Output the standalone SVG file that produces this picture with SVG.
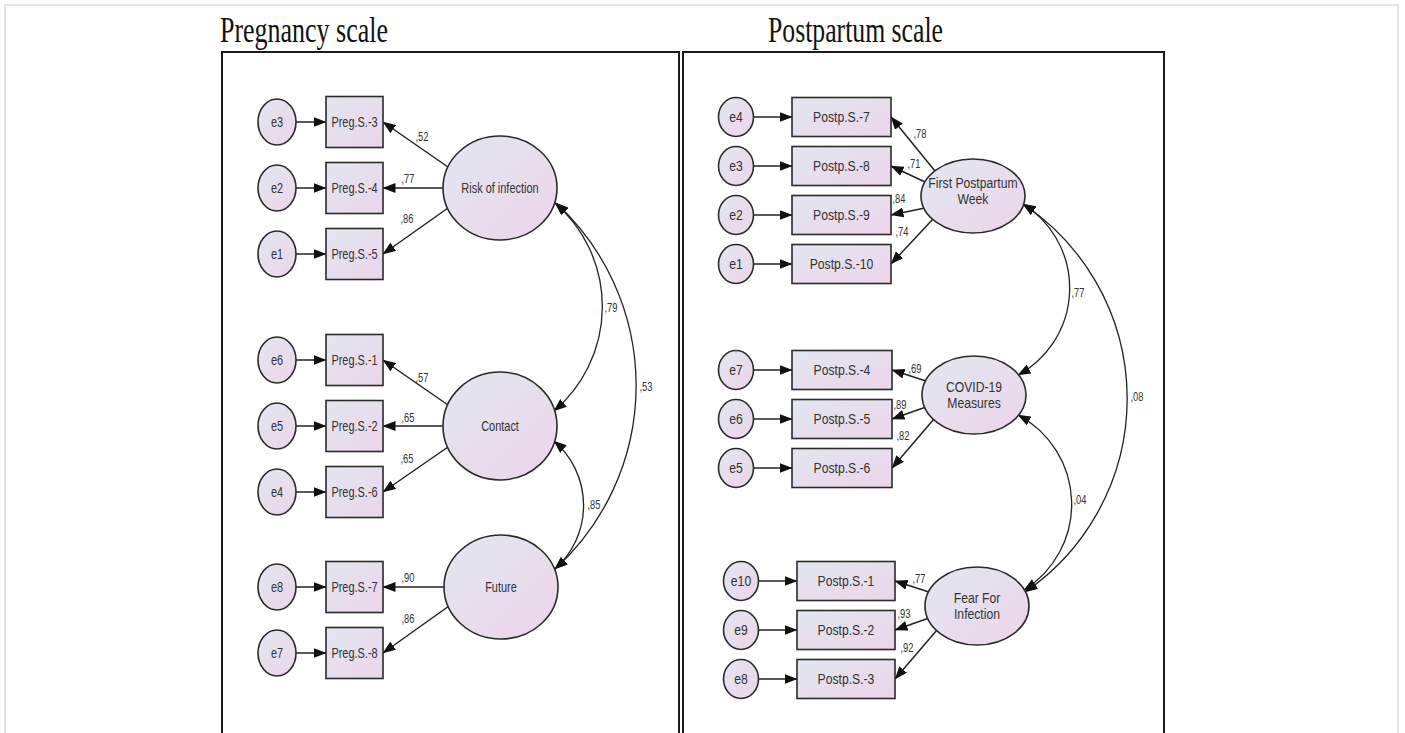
<svg xmlns="http://www.w3.org/2000/svg" width="1405" height="733" viewBox="0 0 1405 733">
<style>
.bg{fill:#ffffff}
.frame{fill:none;stroke:#e3e3e3;stroke-width:2}
.box{fill:none;stroke:#1a1a1a;stroke-width:2}
.title{font-family:"Liberation Serif","Times New Roman",serif;font-size:35px;fill:#111}
.n{fill:url(#g);stroke:#2a2a2a;stroke-width:1.6}
.t{font-family:"Liberation Sans",Arial,sans-serif;fill:#333;text-anchor:middle;transform-box:fill-box;transform-origin:center}
.tl{font-size:15px;transform:scaleX(0.73)}
.tr{font-size:14px;transform:scaleX(0.87)}
.c{font-family:"Liberation Sans",Arial,sans-serif;font-size:13px;fill:#333;text-anchor:middle;transform-box:fill-box;transform-origin:center;transform:scaleX(0.72)}
.a{fill:none;stroke:#222;stroke-width:1.5;marker-end:url(#ah)}
.arc{fill:none;stroke:#222;stroke-width:1.3;marker-start:url(#ah2);marker-end:url(#ah2)}
</style>
<defs>
<linearGradient id="g" x1="0" y1="0" x2="1" y2="1">
<stop offset="0" stop-color="#e1e7f0"/>
<stop offset="1" stop-color="#edd4ea"/>
</linearGradient>
<marker id="ah" markerUnits="userSpaceOnUse" viewBox="0 0 13 10" markerWidth="13" markerHeight="10" refX="12.5" refY="5" orient="auto">
<path d="M0,0 L13,5 L0,10 z" fill="#111"/>
</marker>
<marker id="ah2" markerUnits="userSpaceOnUse" viewBox="0 0 13 10" markerWidth="13" markerHeight="10" refX="12.5" refY="5" orient="auto-start-reverse">
<path d="M0,0 L13,5 L0,10 z" fill="#111"/>
</marker>
</defs>
<rect class="bg" x="0" y="0" width="1405" height="733"/>
<rect class="frame" x="5" y="5" width="1393" height="760"/>

<text class="title" x="220" y="42" textLength="168" lengthAdjust="spacingAndGlyphs">Pregnancy scale</text>
<text class="title" x="768" y="42" textLength="175" lengthAdjust="spacingAndGlyphs">Postpartum scale</text>
<rect class="box" x="222" y="52" width="457" height="720"/>
<rect class="box" x="683" y="52" width="481" height="720"/>

<g id="connectors">
<line class="a" x1="296" y1="122" x2="326" y2="122"/>
<line class="a" x1="296" y1="188" x2="326" y2="188"/>
<line class="a" x1="296" y1="254" x2="326" y2="254"/>
<line class="a" x1="296" y1="360" x2="326" y2="360"/>
<line class="a" x1="296" y1="426" x2="326" y2="426"/>
<line class="a" x1="296" y1="492" x2="326" y2="492"/>
<line class="a" x1="296" y1="587" x2="326" y2="587"/>
<line class="a" x1="296" y1="653" x2="326" y2="653"/>
<line class="a" x1="448" y1="167" x2="383" y2="122"/>
<line class="a" x1="443" y1="188" x2="383" y2="188"/>
<line class="a" x1="448" y1="208" x2="383" y2="254"/>
<line class="a" x1="448" y1="405" x2="383" y2="360"/>
<line class="a" x1="443" y1="426" x2="383" y2="426"/>
<line class="a" x1="448" y1="447" x2="383" y2="492"/>
<line class="a" x1="444" y1="587" x2="383" y2="587"/>
<line class="a" x1="449" y1="606" x2="383" y2="653"/>
<path class="arc" d="M555,203 A137,137 0 0 1 554,411"/>
<path class="arc" d="M556,203 A248,248 0 0 1 555,569"/>
<path class="arc" d="M554,441 A85,85 0 0 1 555,569"/>
<line class="a" x1="753.5" y1="117" x2="792" y2="117"/>
<line class="a" x1="753.5" y1="166" x2="792" y2="166"/>
<line class="a" x1="753.5" y1="215" x2="792" y2="215"/>
<line class="a" x1="753.5" y1="264" x2="792" y2="264"/>
<line class="a" x1="753.5" y1="370" x2="792" y2="370"/>
<line class="a" x1="753.5" y1="419" x2="792" y2="419"/>
<line class="a" x1="753.5" y1="468" x2="792" y2="468"/>
<line class="a" x1="758.5" y1="581" x2="797" y2="581"/>
<line class="a" x1="758.5" y1="630" x2="797" y2="630"/>
<line class="a" x1="758.5" y1="679" x2="797" y2="679"/>
<line class="a" x1="935" y1="171" x2="891" y2="117"/>
<line class="a" x1="925" y1="182" x2="891" y2="166"/>
<line class="a" x1="925" y1="208" x2="891" y2="215"/>
<line class="a" x1="933" y1="219" x2="891" y2="264"/>
<line class="a" x1="926" y1="381" x2="892" y2="370"/>
<line class="a" x1="926" y1="407" x2="892" y2="419"/>
<line class="a" x1="934" y1="419" x2="892" y2="468"/>
<line class="a" x1="929" y1="592" x2="895" y2="581"/>
<line class="a" x1="929" y1="618" x2="895" y2="630"/>
<line class="a" x1="937" y1="630" x2="895" y2="679"/>
<path class="arc" d="M1023,204 A99,99 0 0 1 1018,375"/>
<path class="arc" d="M1023,204 A234,234 0 0 1 1025,592"/>
<path class="arc" d="M1018,415 A101,101 0 0 1 1024,590"/>
<text class="c" x="422" y="141">,52</text>
<text class="c" x="408" y="183">,77</text>
<text class="c" x="407" y="223">,86</text>
<text class="c" x="422" y="382">,57</text>
<text class="c" x="408" y="422">,65</text>
<text class="c" x="407" y="463">,65</text>
<text class="c" x="408" y="582">,90</text>
<text class="c" x="408" y="623">,86</text>
<text class="c" x="611" y="312">,79</text>
<text class="c" x="646" y="391">,53</text>
<text class="c" x="594" y="509">,85</text>
<text class="c" x="920" y="138">,78</text>
<text class="c" x="914" y="168">,71</text>
<text class="c" x="899" y="203">,84</text>
<text class="c" x="902" y="236">,74</text>
<text class="c" x="915" y="373">,69</text>
<text class="c" x="900" y="409">,89</text>
<text class="c" x="903" y="440">,82</text>
<text class="c" x="919" y="583">,77</text>
<text class="c" x="904" y="618">,93</text>
<text class="c" x="907" y="652">,92</text>
<text class="c" x="1078" y="297">,77</text>
<text class="c" x="1137" y="401">,08</text>
<text class="c" x="1080" y="504">,04</text>
</g>

<g id="L_e3"><ellipse class="n" cx="277" cy="122" rx="19" ry="23"/><text class="t tl" x="277" y="127.5">e3</text></g>
<g id="L_e2"><ellipse class="n" cx="277" cy="188" rx="19" ry="23"/><text class="t tl" x="277" y="193.5">e2</text></g>
<g id="L_e1"><ellipse class="n" cx="277" cy="254" rx="19" ry="23"/><text class="t tl" x="277" y="259.5">e1</text></g>
<g id="L_e6"><ellipse class="n" cx="277" cy="360" rx="19" ry="23"/><text class="t tl" x="277" y="365.5">e6</text></g>
<g id="L_e5"><ellipse class="n" cx="277" cy="426" rx="19" ry="23"/><text class="t tl" x="277" y="431.5">e5</text></g>
<g id="L_e4"><ellipse class="n" cx="277" cy="492" rx="19" ry="23"/><text class="t tl" x="277" y="497.5">e4</text></g>
<g id="L_e8"><ellipse class="n" cx="277" cy="587" rx="19" ry="23"/><text class="t tl" x="277" y="592.5">e8</text></g>
<g id="L_e7"><ellipse class="n" cx="277" cy="653" rx="19" ry="23"/><text class="t tl" x="277" y="658.5">e7</text></g>

<g id="PregS3"><rect class="n" x="326" y="96.5" width="57" height="51"/><text class="t tl" x="354.5" y="127.5">Preg.S.-3</text></g>
<g id="PregS4"><rect class="n" x="326" y="162.5" width="57" height="51"/><text class="t tl" x="354.5" y="193.5">Preg.S.-4</text></g>
<g id="PregS5"><rect class="n" x="326" y="228.5" width="57" height="51"/><text class="t tl" x="354.5" y="259.5">Preg.S.-5</text></g>
<g id="PregS1"><rect class="n" x="326" y="334.5" width="57" height="51"/><text class="t tl" x="354.5" y="365.5">Preg.S.-1</text></g>
<g id="PregS2"><rect class="n" x="326" y="400.5" width="57" height="51"/><text class="t tl" x="354.5" y="431.5">Preg.S.-2</text></g>
<g id="PregS6"><rect class="n" x="326" y="466.5" width="57" height="51"/><text class="t tl" x="354.5" y="497.5">Preg.S.-6</text></g>
<g id="PregS7"><rect class="n" x="326" y="561.5" width="57" height="51"/><text class="t tl" x="354.5" y="592.5">Preg.S.-7</text></g>
<g id="PregS8"><rect class="n" x="326" y="627.5" width="57" height="51"/><text class="t tl" x="354.5" y="658.5">Preg.S.-8</text></g>

<g id="RiskOfInfection"><ellipse class="n" cx="500" cy="188" rx="57" ry="52"/><text class="t tl" x="500" y="193.5">Risk of infection</text></g>
<g id="Contact"><ellipse class="n" cx="500" cy="426" rx="57" ry="54"/><text class="t tl" x="500" y="431.5">Contact</text></g>
<g id="Future"><ellipse class="n" cx="501" cy="587" rx="57" ry="52"/><text class="t tl" x="501" y="592.5">Future</text></g>

<g id="R_e4"><ellipse class="n" cx="736" cy="117" rx="17.5" ry="19.5"/><text class="t tr" x="736" y="122">e4</text></g>
<g id="R_e3"><ellipse class="n" cx="736" cy="166" rx="17.5" ry="19.5"/><text class="t tr" x="736" y="171">e3</text></g>
<g id="R_e2"><ellipse class="n" cx="736" cy="215" rx="17.5" ry="19.5"/><text class="t tr" x="736" y="220">e2</text></g>
<g id="R_e1"><ellipse class="n" cx="736" cy="264" rx="17.5" ry="19.5"/><text class="t tr" x="736" y="269">e1</text></g>
<g id="R_e7"><ellipse class="n" cx="736" cy="370" rx="17.5" ry="19.5"/><text class="t tr" x="736" y="375">e7</text></g>
<g id="R_e6"><ellipse class="n" cx="736" cy="419" rx="17.5" ry="19.5"/><text class="t tr" x="736" y="424">e6</text></g>
<g id="R_e5"><ellipse class="n" cx="736" cy="468" rx="17.5" ry="19.5"/><text class="t tr" x="736" y="473">e5</text></g>
<g id="R_e10"><ellipse class="n" cx="741" cy="581" rx="17.5" ry="19.5"/><text class="t tr" x="741" y="586">e10</text></g>
<g id="R_e9"><ellipse class="n" cx="741" cy="630" rx="17.5" ry="19.5"/><text class="t tr" x="741" y="635">e9</text></g>
<g id="R_e8"><ellipse class="n" cx="741" cy="679" rx="17.5" ry="19.5"/><text class="t tr" x="741" y="684">e8</text></g>

<g id="PostpS7"><rect class="n" x="792" y="97.5" width="99" height="39"/><text class="t tr" x="841.5" y="122">Postp.S.-7</text></g>
<g id="PostpS8"><rect class="n" x="792" y="146.5" width="99" height="39"/><text class="t tr" x="841.5" y="171">Postp.S.-8</text></g>
<g id="PostpS9"><rect class="n" x="792" y="195.5" width="99" height="39"/><text class="t tr" x="841.5" y="220">Postp.S.-9</text></g>
<g id="PostpS10"><rect class="n" x="792" y="244.5" width="99" height="39"/><text class="t tr" x="841.5" y="269">Postp.S.-10</text></g>
<g id="PostpS4"><rect class="n" x="792" y="350.5" width="100" height="39"/><text class="t tr" x="842" y="375">Postp.S.-4</text></g>
<g id="PostpS5"><rect class="n" x="792" y="399.5" width="100" height="39"/><text class="t tr" x="842" y="424">Postp.S.-5</text></g>
<g id="PostpS6"><rect class="n" x="792" y="448.5" width="100" height="39"/><text class="t tr" x="842" y="473">Postp.S.-6</text></g>
<g id="PostpS1"><rect class="n" x="797" y="561.5" width="98" height="39"/><text class="t tr" x="846" y="586">Postp.S.-1</text></g>
<g id="PostpS2"><rect class="n" x="797" y="610.5" width="98" height="39"/><text class="t tr" x="846" y="635">Postp.S.-2</text></g>
<g id="PostpS3"><rect class="n" x="797" y="659.5" width="98" height="39"/><text class="t tr" x="846" y="684">Postp.S.-3</text></g>

<g id="FirstPostpartumWeek"><ellipse class="n" cx="973" cy="196" rx="52" ry="37"/><text class="t tr" x="973" y="188">First Postpartum</text><text class="t tr" x="973" y="204">Week</text></g>
<g id="Covid19Measures"><ellipse class="n" cx="974" cy="395" rx="52" ry="39"/><text class="t tr" x="974" y="392">COVID-19</text><text class="t tr" x="974" y="408">Measures</text></g>
<g id="FearForInfection"><ellipse class="n" cx="977" cy="606" rx="52" ry="39"/><text class="t tr" x="977" y="603">Fear For</text><text class="t tr" x="977" y="619">Infection</text></g>
</svg>
